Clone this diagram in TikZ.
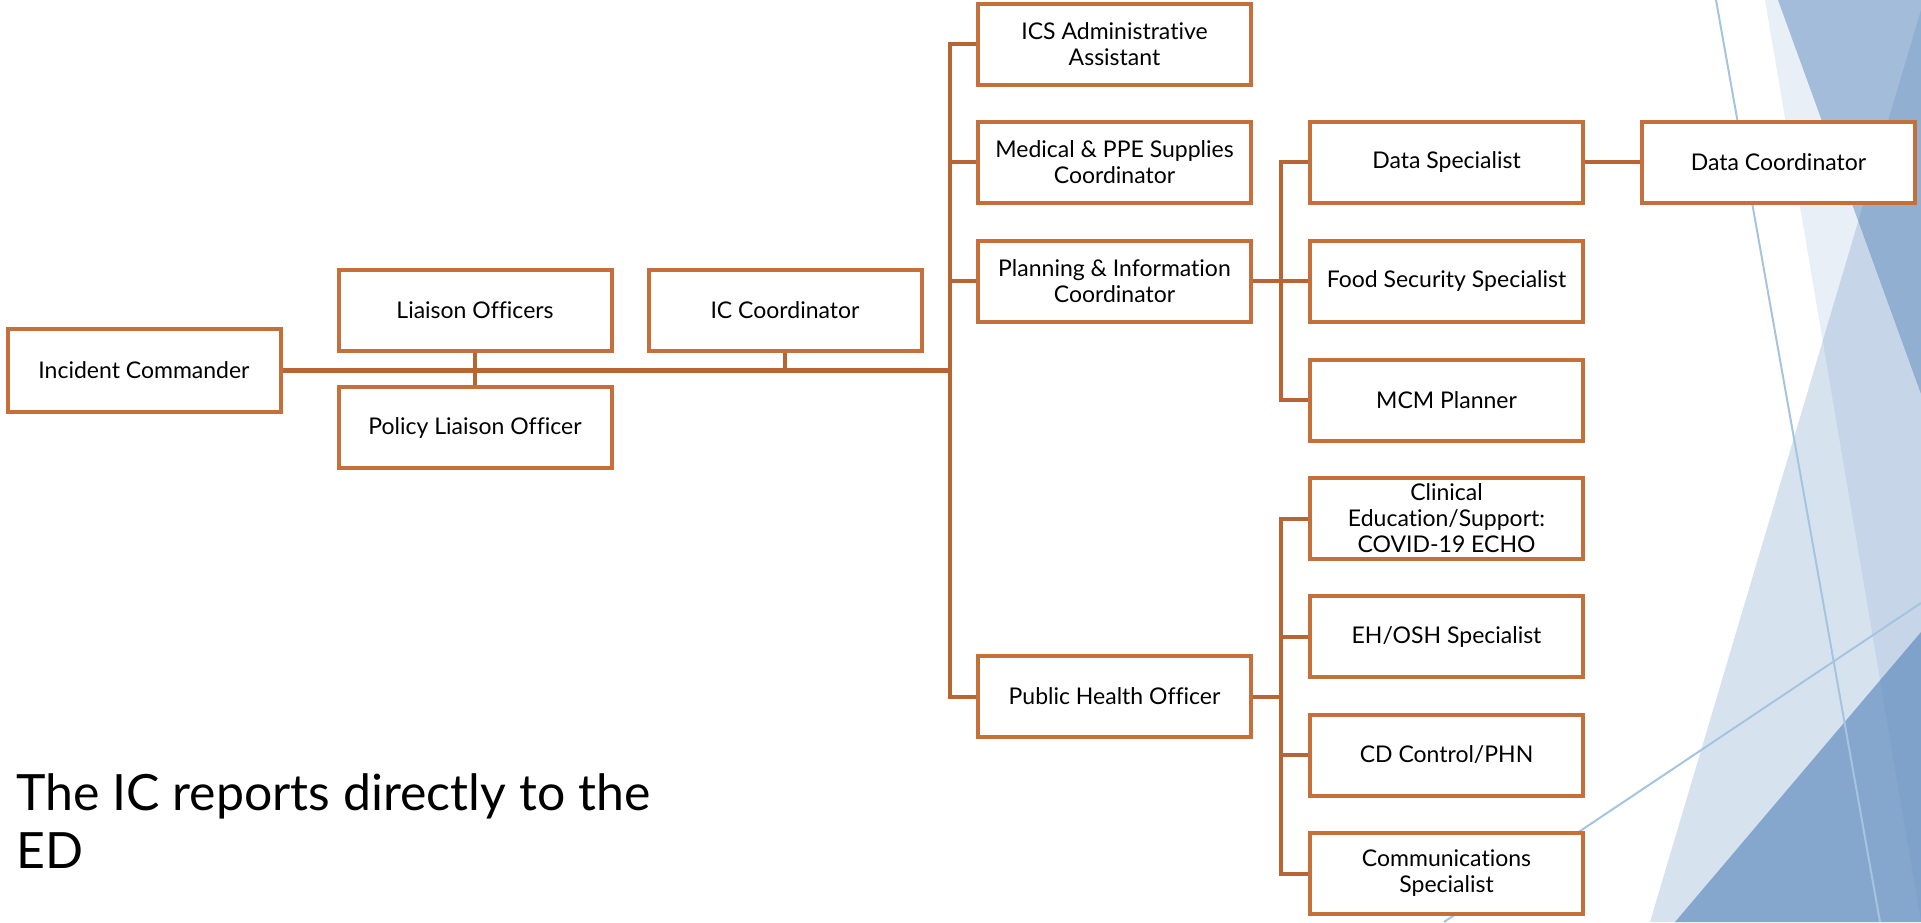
\documentclass[tikz,border=0pt]{standalone}
\usepackage{fontspec}
\setmainfont{Lato}[Ligatures=NoCommon]
\definecolor{boxc}{RGB}{197,112,58}
\definecolor{linec}{RGB}{184,101,53}
\definecolor{deco}{RGB}{82,130,184}
\definecolor{thinl}{RGB}{165,196,224}
\begin{document}
\begin{tikzpicture}[x=0.5pt,y=-0.5pt,
  box/.style={draw=boxc, line width=2pt, fill=white, minimum width=136.5pt,
    minimum height=40.5pt, inner sep=2pt, align=center,
    font=\fontsize{11.5}{13}\selectfont, text=black},
  conn/.style={draw=linec, line width=2pt},
  thinline/.style={draw=thinl, line width=1pt},
  note/.style={anchor=base west, inner sep=0pt, font=\fontsize{25}{29}\selectfont, text=black}]
\useasboundingbox (0,0) rectangle (1921,922);
% background decoration
\begin{scope}
\clip (0,0) rectangle (1921,922);
\fill[deco, opacity=0.13] (1765,0) -- (1921,0) -- (1921,922) -- cycle;
\fill[deco, opacity=0.23] (1924,0) -- (1650,922) -- (1921,922) -- cycle;
\fill[deco, opacity=0.47] (1778,0) -- (1921,0) -- (1921,394) -- cycle;
\fill[deco, opacity=0.62] (1675,922) -- (1921,632) -- (1921,922) -- cycle;
\coordinate (la1) at (1716,0);
\coordinate (la2) at (1880,922);
\coordinate (lb1) at (1444,922);
\coordinate (lb2) at (1921,603);
\draw[thinline] (la1) -- (la2);
\draw[thinline] (lb1) -- (lb2);
\end{scope}
% nodes
\node[box, minimum height=41.5pt] (ic) at (144,370) {Incident Commander};
\node[box] (lo) at (475,310.5) {Liaison Officers};
\node[box] (icc) at (785,310.5) {IC Coordinator};
\node[box] (plo) at (475,427.5) {Policy Liaison Officer};
\node[box] (ics) at (1114.5,44) {ICS Administrative\\Assistant};
\node[box] (med) at (1114.5,162) {Medical \& PPE Supplies\\Coordinator};
\node[box] (plan) at (1114.5,281) {Planning \& Information\\Coordinator};
\node[box] (pho) at (1114.5,696.5) {Public Health Officer};
\node[box] (ds) at (1446.5,162) {Data Specialist};
\node[box] (food) at (1446.5,281) {Food Security Specialist};
\node[box] (mcm) at (1446.5,400) {MCM Planner};
\node[box] (clin) at (1446.5,518.5) {Clinical\\Education/Support:\\COVID-19 ECHO};
\node[box] (eh) at (1446.5,636.5) {EH/OSH Specialist};
\node[box] (cd) at (1446.5,755) {CD Control/PHN};
\node[box] (comm) at (1446.5,873.5) {Communications\\Specialist};
\node[box] (dc) at (1778.5,162) {Data Coordinator};
% connectors
\coordinate (j0) at (950,370);
\coordinate (j1) at (1281,370);
\draw[conn, line width=2.5pt] (ic.east) -- (j0);
\draw[conn] (lo.south) -- (plo.north);
\draw[conn] (icc.south) -- (icc.south |- j0);
\draw[conn] (ics.west) -- (ics.west -| j0) -- (pho.west -| j0) -- (pho.west);
\draw[conn] (med.west) -- (med.west -| j0);
\draw[conn] (plan.west) -- (plan.west -| j0);
\draw[conn] (plan.east) -- (plan.east -| j1);
\draw[conn] (ds.west) -- (ds.west -| j1) -- (mcm.west -| j1) -- (mcm.west);
\draw[conn] (food.west) -- (food.west -| j1);
\draw[conn] (ds.east) -- (dc.west);
\draw[conn] (pho.east) -- (pho.east -| j1);
\draw[conn] (clin.west) -- (clin.west -| j1) -- (comm.west -| j1) -- (comm.west);
\draw[conn] (eh.west) -- (eh.west -| j1);
\draw[conn] (cd.west) -- (cd.west -| j1);
% note
\node[note] (note1) at (16,810) {The IC reports directly to the};
\node[note] (note2) at (16,868) {ED};
\end{tikzpicture}
\end{document}
